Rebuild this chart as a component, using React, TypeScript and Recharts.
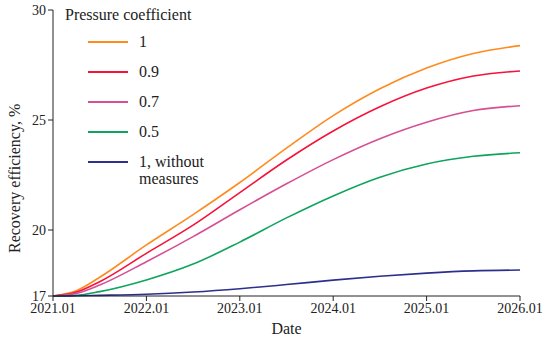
import { Line, LineChart, XAxis, YAxis } from "recharts";

const years = [0, 0.25, 0.5, 1, 1.5, 2, 2.5, 3, 3.5, 4, 4.5, 5];
const xTicks = [0, 1, 2, 3, 4, 5];
const xLabels = ["2021.01", "2022.01", "2023.01", "2024.01", "2025.01", "2026.01"];
const yTicks = [17, 20, 25, 30];

const p10 = [17, 17.24, 17.85, 19.32, 20.7, 22.16, 23.72, 25.2, 26.42, 27.36, 28.02, 28.38];
const p09 = [17, 17.18, 17.65, 18.94, 20.22, 21.7, 23.18, 24.5, 25.6, 26.45, 27.0, 27.23];
const p07 = [17, 17.12, 17.5, 18.56, 19.7, 20.92, 22.1, 23.2, 24.15, 24.9, 25.43, 25.65];
const p05 = [17, 17.03, 17.2, 17.73, 18.45, 19.45, 20.55, 21.55, 22.4, 23.0, 23.35, 23.51];
const p10none = [17, 17.01, 17.03, 17.08, 17.18, 17.33, 17.52, 17.72, 17.9, 18.04, 18.14, 18.18];

const series = [
  { key: "p10", name: "1", color: "#ff8a1e" },
  { key: "p09", name: "0.9", color: "#f5133a" },
  { key: "p07", name: "0.7", color: "#d64f95" },
  { key: "p05", name: "0.5", color: "#0ea45e" },
  { key: "p10none", name: "1, without measures", color: "#2c2f8e" },
];

const data = years.map((t, i) => ({
  t,
  p10: p10[i],
  p09: p09[i],
  p07: p07[i],
  p05: p05[i],
  p10none: p10none[i],
}));

const FONT = "'Times New Roman', Times, 'Liberation Serif', 'Nimbus Roman', 'DejaVu Serif', serif";

function LegendBox() {
  return (
    <div style={{ position: "absolute", left: 65, top: 5, fontFamily: FONT, color: "#222", fontSize: 16 }}>
      <div style={{ lineHeight: "20px", marginBottom: 8 }}>Pressure coefficient</div>
      {series.map((s) => (
        <div key={s.key} style={{ display: "flex", alignItems: "flex-start", height: 30 }}>
          <div
            style={{
              width: 40,
              height: 2,
              background: s.color,
              marginLeft: 23,
              marginRight: 11,
              marginTop: 8,
            }}
          />
          <div style={{ lineHeight: "17px", width: 80 }}>{s.name}</div>
        </div>
      ))}
    </div>
  );
}

export default function App() {
  return (
    <div style={{ position: "absolute", left: 0, top: 0, width: 550, height: 337, background: "#fff" }}>
      <LineChart width={550} height={337} data={data} margin={{ top: 10, right: 30, left: 0, bottom: 11 }}>
        <XAxis
          dataKey="t"
          type="number"
          domain={[0, 5]}
          ticks={xTicks}
          tickFormatter={(v) => xLabels[xTicks.indexOf(v)]}
          height={30}
          stroke="#222"
          tickSize={5}
          tick={{ fill: "#222", fontSize: 14, fontFamily: FONT }}
          label={{ value: "Date", position: "insideBottom", offset: -8, fill: "#222", fontSize: 16, fontFamily: FONT }}
        />
        <YAxis
          type="number"
          domain={[17, 30]}
          ticks={yTicks}
          width={53}
          stroke="#222"
          tickSize={5}
          tick={{ fill: "#222", fontSize: 14, fontFamily: FONT }}
          label={{
            value: "Recovery efficiency, %",
            angle: -90,
            position: "insideLeft",
            offset: 14,
            dy: 100,
            fill: "#222",
            fontSize: 16,
            fontFamily: FONT,
          }}
        />
        {series.map((s) => (
          <Line
            key={s.key}
            dataKey={s.key}
            name={s.name}
            type="monotone"
            stroke={s.color}
            strokeWidth={1.6}
            dot={false}
            isAnimationActive={false}
          />
        ))}
      </LineChart>
      <LegendBox />
    </div>
  );
}
